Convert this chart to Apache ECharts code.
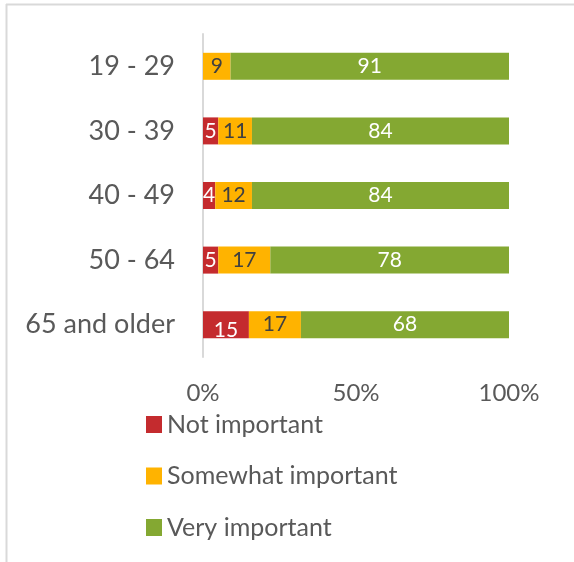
<!DOCTYPE html>
<html>
<head>
<meta charset="utf-8">
<style>
  html, body { margin: 0; padding: 0; background: #ffffff; }
  #chart { width: 574px; height: 562px; }
</style>
<script src="https://cdn.jsdelivr.net/npm/echarts@6/dist/echarts.min.js"></script>
</head>
<body>
<div id="chart"></div>
<script>
// Age groups, listed top to bottom
const ageGroups = ['19 - 29', '30 - 39', '40 - 49', '50 - 64', '65 and older'];

// Share of respondents (%) per age group
const notImportant      = [0, 5, 4, 5, 15];
const somewhatImportant = [9, 11, 12, 17, 17];
const veryImportant     = [91, 84, 84, 78, 68];

const seriesNames = ['Not important', 'Somewhat important', 'Very important'];
const seriesColors = ['#c42b2e', '#ffb300', '#84a832'];
const labelColors = ['#ffffff', '#404040', '#ffffff'];

const FONT = 'Lato, "Open Sans", sans-serif';

function makeSeries(idx, values) {
  return {
    name: seriesNames[idx],
    type: 'bar',
    stack: 'total',
    barWidth: 27,
    itemStyle: { color: seriesColors[idx] },
    label: {
      show: true,
      position: 'inside',
      color: labelColors[idx],
      fontFamily: FONT,
      fontSize: 21,
      formatter: p => (p.value > 0 ? String(p.value) : '')
    },
    data: values.map((v, i) => {
      const item = { value: v };
      // the widest red label sits a little low in its bar
      if (idx === 0 && v >= 10) item.label = { offset: [0, 6] };
      return item;
    })
  };
}

const chart = echarts.init(document.getElementById('chart'));
chart.setOption({
  animation: false,
  grid: { left: 203, right: 65, top: 34, bottom: 205 },
  xAxis: {
    type: 'value',
    min: 0,
    max: 100,
    interval: 50,
    axisLine: { show: false },
    axisTick: { show: false },
    splitLine: { show: false },
    axisLabel: {
      formatter: '{value}%',
      color: '#595959',
      fontFamily: FONT,
      fontSize: 24,
      margin: 24
    }
  },
  yAxis: {
    type: 'category',
    inverse: true,
    data: ageGroups,
    axisLine: { show: true, lineStyle: { color: '#d9d9d9', width: 2 } },
    axisTick: { show: false },
    axisLabel: {
      color: '#595959',
      fontFamily: FONT,
      fontSize: 27,
      margin: 28
    }
  },
  legend: {
    orient: 'vertical',
    left: 141,
    top: 407,
    itemWidth: 16,
    itemHeight: 17,
    itemGap: 26.5,
    icon: 'rect',
    textStyle: { color: '#595959', fontFamily: FONT, fontSize: 25, lineHeight: 25 },
    data: seriesNames
  },
  graphic: [
    { type: 'line', shape: { x1: 6, y1: 4.5, x2: 574, y2: 4.5 }, style: { stroke: '#d9d9d9', lineWidth: 2 } },
    { type: 'line', shape: { x1: 6.5, y1: 4, x2: 6.5, y2: 562 }, style: { stroke: '#d9d9d9', lineWidth: 2 } }
  ],
  series: [
    makeSeries(0, notImportant),
    makeSeries(1, somewhatImportant),
    makeSeries(2, veryImportant)
  ]
});
</script>
</body>
</html>
